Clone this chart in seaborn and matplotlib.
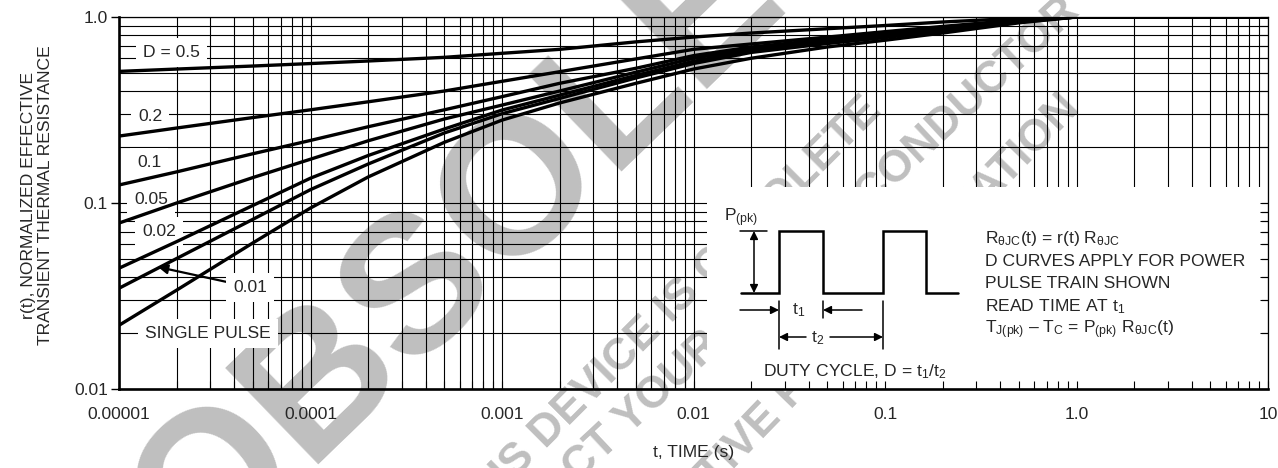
import numpy as np
import pandas as pd
import matplotlib
matplotlib.use("Agg")
import matplotlib.pyplot as plt
import seaborn as sns
from matplotlib import font_manager
from matplotlib.patches import Rectangle
from matplotlib.ticker import FixedLocator, FixedFormatter, LogLocator, NullFormatter

# values: time (s) and normalized r(t) per duty cycle
t_s = [1e-5, 2e-5, 5e-5, 1e-4, 2e-4, 5e-4, 1e-3, 2e-3, 5e-3,
       1e-2, 2e-2, 5e-2, 0.1, 0.2, 0.5, 1.0, 10.0]
r_d050 = [0.51, 0.525, 0.545, 0.562, 0.58, 0.607, 0.638, 0.67, 0.735,
          0.78, 0.82, 0.865, 0.90, 0.94, 0.985, 1.0, 1.0]
r_d020 = [0.229, 0.253, 0.288, 0.317, 0.35, 0.40, 0.451, 0.508, 0.595,
          0.67, 0.716, 0.78, 0.834, 0.89, 0.965, 1.0, 1.0]
r_d010 = [0.125, 0.147, 0.184, 0.217, 0.257, 0.317, 0.373, 0.44, 0.53,
          0.62, 0.69, 0.758, 0.81, 0.87, 0.955, 1.0, 1.0]
r_d005 = [0.078, 0.100, 0.137, 0.172, 0.216, 0.283, 0.336, 0.40, 0.505,
          0.60, 0.675, 0.745, 0.80, 0.86, 0.95, 1.0, 1.0]
r_d002 = [0.0446, 0.062, 0.097, 0.136, 0.18, 0.25, 0.316, 0.38, 0.485,
          0.578, 0.66, 0.735, 0.79, 0.855, 0.945, 1.0, 1.0]
r_d001 = [0.0348, 0.0503, 0.0817, 0.118, 0.162, 0.238, 0.302, 0.365, 0.47,
          0.562, 0.645, 0.72, 0.775, 0.845, 0.94, 1.0, 1.0]
r_single = [0.022, 0.034, 0.061, 0.094, 0.138, 0.212, 0.279, 0.345, 0.44,
            0.525, 0.60, 0.69, 0.75, 0.82, 0.93, 1.0, 1.0]

curve_keys = ["0.5", "0.2", "0.1", "0.05", "0.02", "0.01", "single"]
curve_vals = [r_d050, r_d020, r_d010, r_d005, r_d002, r_d001, r_single]

x_ticks = [1e-5, 1e-4, 1e-3, 1e-2, 1e-1, 1.0, 10.0]
x_tick_labels = ["0.00001", "0.0001", "0.001", "0.01", "0.1", "1.0", "10"]
y_ticks = [0.01, 0.1, 1.0]
y_tick_labels = ["0.01", "0.1", "1.0"]

sns.set_theme(style="white")
installed = {f.name for f in font_manager.fontManager.ttflist}
narrow = "Liberation Sans Narrow" in installed
base_font = "Liberation Sans Narrow" if narrow else "Liberation Sans"
fs = 14 if narrow else 12.6
plt.rcParams["font.family"] = [base_font, "DejaVu Sans"]
plt.rcParams["mathtext.fontset"] = "custom"
plt.rcParams["mathtext.rm"] = base_font
plt.rcParams["mathtext.it"] = base_font
plt.rcParams["mathtext.bf"] = base_font

W, H = 1278, 468
L, R, T, B = 119, 1268, 17, 389


def fx(px):
    return (px - L) / (R - L)


def fy(py):
    return (B - py) / (B - T)


fig = plt.figure(figsize=(W / 100, H / 100), dpi=100)
fig.patch.set_facecolor("white")
ax = fig.add_axes([L / W, 1 - B / H, (R - L) / W, (B - T) / H])
ax.patch.set_facecolor("none")

# watermark behind everything
wm = "#bfbfbf"
fig.text(548 / W, 1 - 165 / H, "OBSOLETE", fontsize=140, fontweight="bold",
         family="Liberation Sans", color=wm, rotation=44, ha="center",
         va="center", rotation_mode="anchor", zorder=-1)
for txt, px, py, rot in [("THIS DEVICE IS OBSOLETE", 465, 530, 45),
                         ("CONTACT YOUR ON SEMICONDUCTOR", 464, 589, 43),
                         ("REPRESENTATIVE FOR INFORMATION", 507, 704, 46)]:
    fig.text(px / W, 1 - py / H, txt, fontsize=32, fontweight="bold",
             family="Liberation Sans", color=wm, rotation=rot, ha="left",
             va="baseline", rotation_mode="anchor", zorder=-1)

# curves
df = pd.concat([pd.DataFrame({"t": t_s, "r": v, "D": k})
                for k, v in zip(curve_keys, curve_vals)], ignore_index=True)
sns.lineplot(data=df, x="t", y="r", units="D", estimator=None, color="black",
             lw=2.4, ax=ax, zorder=2, legend=False)

ax.set_xscale("log")
ax.set_yscale("log")
ax.set_xlim(1e-5, 10)
ax.set_ylim(0.01, 1.0)
ax.set_xlabel("")
ax.set_ylabel("")
ax.xaxis.set_major_locator(FixedLocator(x_ticks))
ax.xaxis.set_major_formatter(FixedFormatter(x_tick_labels))
ax.yaxis.set_major_locator(FixedLocator(y_ticks))
ax.yaxis.set_major_formatter(FixedFormatter(y_tick_labels))
for axis in (ax.xaxis, ax.yaxis):
    axis.set_minor_locator(LogLocator(base=10, subs=np.arange(2, 10), numticks=100))
    axis.set_minor_formatter(NullFormatter())
ax.set_axisbelow(True)
ax.grid(True, which="both", color="black", lw=0.8)
ax.tick_params(axis="x", which="both", length=0, pad=13, labelsize=fs)
ax.tick_params(axis="y", which="major", left=True, length=6, width=1,
               direction="out", pad=2, labelsize=fs, color="black")
ax.tick_params(axis="y", which="minor", length=0)
for side in ("left", "bottom"):
    ax.spines[side].set_linewidth(1.9)
for side in ("top", "right"):
    ax.spines[side].set_linewidth(0.9)
for sp in ax.spines.values():
    sp.set_color("black")
    sp.set_visible(True)

# inward ticks on bottom / right (visible inside the inset box)
ax_t = fig.add_axes(ax.get_position(), frameon=False)
ax_t.set_xscale("log")
ax_t.set_yscale("log")
ax_t.set_xlim(1e-5, 10)
ax_t.set_ylim(0.01, 1.0)
ax_t.xaxis.set_major_locator(FixedLocator(x_ticks))
ax_t.yaxis.set_major_locator(FixedLocator(y_ticks))
for axis in (ax_t.xaxis, ax_t.yaxis):
    axis.set_minor_locator(LogLocator(base=10, subs=np.arange(2, 10), numticks=100))
    axis.set_minor_formatter(NullFormatter())
ax_t.tick_params(which="both", direction="in", bottom=True, right=True,
                 left=False, top=False, labelbottom=False, labelleft=False,
                 length=6, width=0.8, color="black")
ax_t.patch.set_visible(False)

# white inset panel
ax.add_patch(Rectangle((fx(707), 0), fx(1262) - fx(707), fy(187),
                       transform=ax.transAxes, fc="white", ec="none", zorder=1))

# curve labels with white boxes
box = dict(boxstyle="square,pad=0.4", fc="white", ec="none")
for txt, px, py in [("D = 0.5", 143, 52), ("0.2", 138, 116), ("0.1", 137, 162),
                    ("0.05", 134, 199), ("0.02", 142, 231),
                    ("SINGLE PULSE", 145, 333)]:
    ax.text(fx(px), fy(py), txt, transform=ax.transAxes, ha="left",
            va="center", fontsize=fs, bbox=box, zorder=1.5)
ax.annotate("0.01", xy=(fx(158), fy(267)), xytext=(fx(233), fy(287)),
            xycoords="axes fraction", textcoords="axes fraction",
            ha="left", va="center", fontsize=fs, bbox=box, zorder=1.5,
            arrowprops=dict(arrowstyle="-|>", color="black", lw=1.6,
                            mutation_scale=14, shrinkA=0, shrinkB=0))


# pulse-train sketch in the inset
def seg(xs, ys, lw=1.6):
    ax.plot([fx(v) for v in xs], [fy(v) for v in ys], color="black", lw=lw,
            transform=ax.transAxes, zorder=3, solid_joinstyle="miter")


def arrow(x0, y0, x1, y1, style="-|>"):
    ax.annotate("", xy=(fx(x1), fy(y1)), xytext=(fx(x0), fy(y0)),
                xycoords="axes fraction", textcoords="axes fraction",
                arrowprops=dict(arrowstyle=style, color="black", lw=1.1,
                                mutation_scale=12, shrinkA=0, shrinkB=0),
                zorder=3)


seg([741, 779, 779, 823, 823, 883, 883, 926, 926, 958],
    [293, 293, 231, 231, 293, 293, 231, 231, 293, 293], lw=1.8)
seg([740, 767], [231, 231], lw=1.1)
arrow(754, 293, 754, 231, style="<|-|>")
seg([779, 779], [301, 349], lw=1.1)
seg([823, 823], [301, 318], lw=1.1)
seg([883, 883], [301, 349], lw=1.1)
arrow(740, 310, 779, 310)
arrow(862, 310, 823, 310)
arrow(806, 337, 779, 337)
arrow(830, 337, 883, 337)

ax.text(fx(724), fy(218), r"P$_{\mathrm{(pk)}}$", transform=ax.transAxes,
        ha="left", va="center", fontsize=fs, zorder=3)
ax.text(fx(799), fy(310), r"t$_1$", transform=ax.transAxes,
        ha="center", va="center", fontsize=fs, zorder=3)
ax.text(fx(818), fy(338), r"t$_2$", transform=ax.transAxes,
        ha="center", va="center", fontsize=fs, zorder=3)
ax.text(fx(855), fy(372), r"DUTY CYCLE, D = t$_1$/t$_2$", transform=ax.transAxes,
        ha="center", va="center", fontsize=fs, zorder=3)

notes = [r"R$_{\mathrm{θJC}}$(t) = r(t) R$_{\mathrm{θJC}}$",
         "D CURVES APPLY FOR POWER",
         "PULSE TRAIN SHOWN",
         r"READ TIME AT t$_1$",
         r"T$_{\mathrm{J(pk)}}$ – T$_{\mathrm{C}}$ = P$_{\mathrm{(pk)}}$ R$_{\mathrm{θJC}}$(t)"]
for i, line in enumerate(notes):
    ax.text(fx(985), fy(238 + 23 * i), line, transform=ax.transAxes,
            ha="left", va="center", fontsize=fs, zorder=3)

# axis titles
fig.text(693.5 / W, 1 - 453 / H, "t, TIME (s)", ha="center", va="center",
         fontsize=fs)
fig.text(37 / W, 1 - 195 / H,
         "r(t), NORMALIZED EFFECTIVE\nTRANSIENT THERMAL RESISTANCE",
         ha="center", va="center", rotation=90, fontsize=fs, linespacing=1.1)

fig.savefig("out.png", dpi=100, facecolor="white")
